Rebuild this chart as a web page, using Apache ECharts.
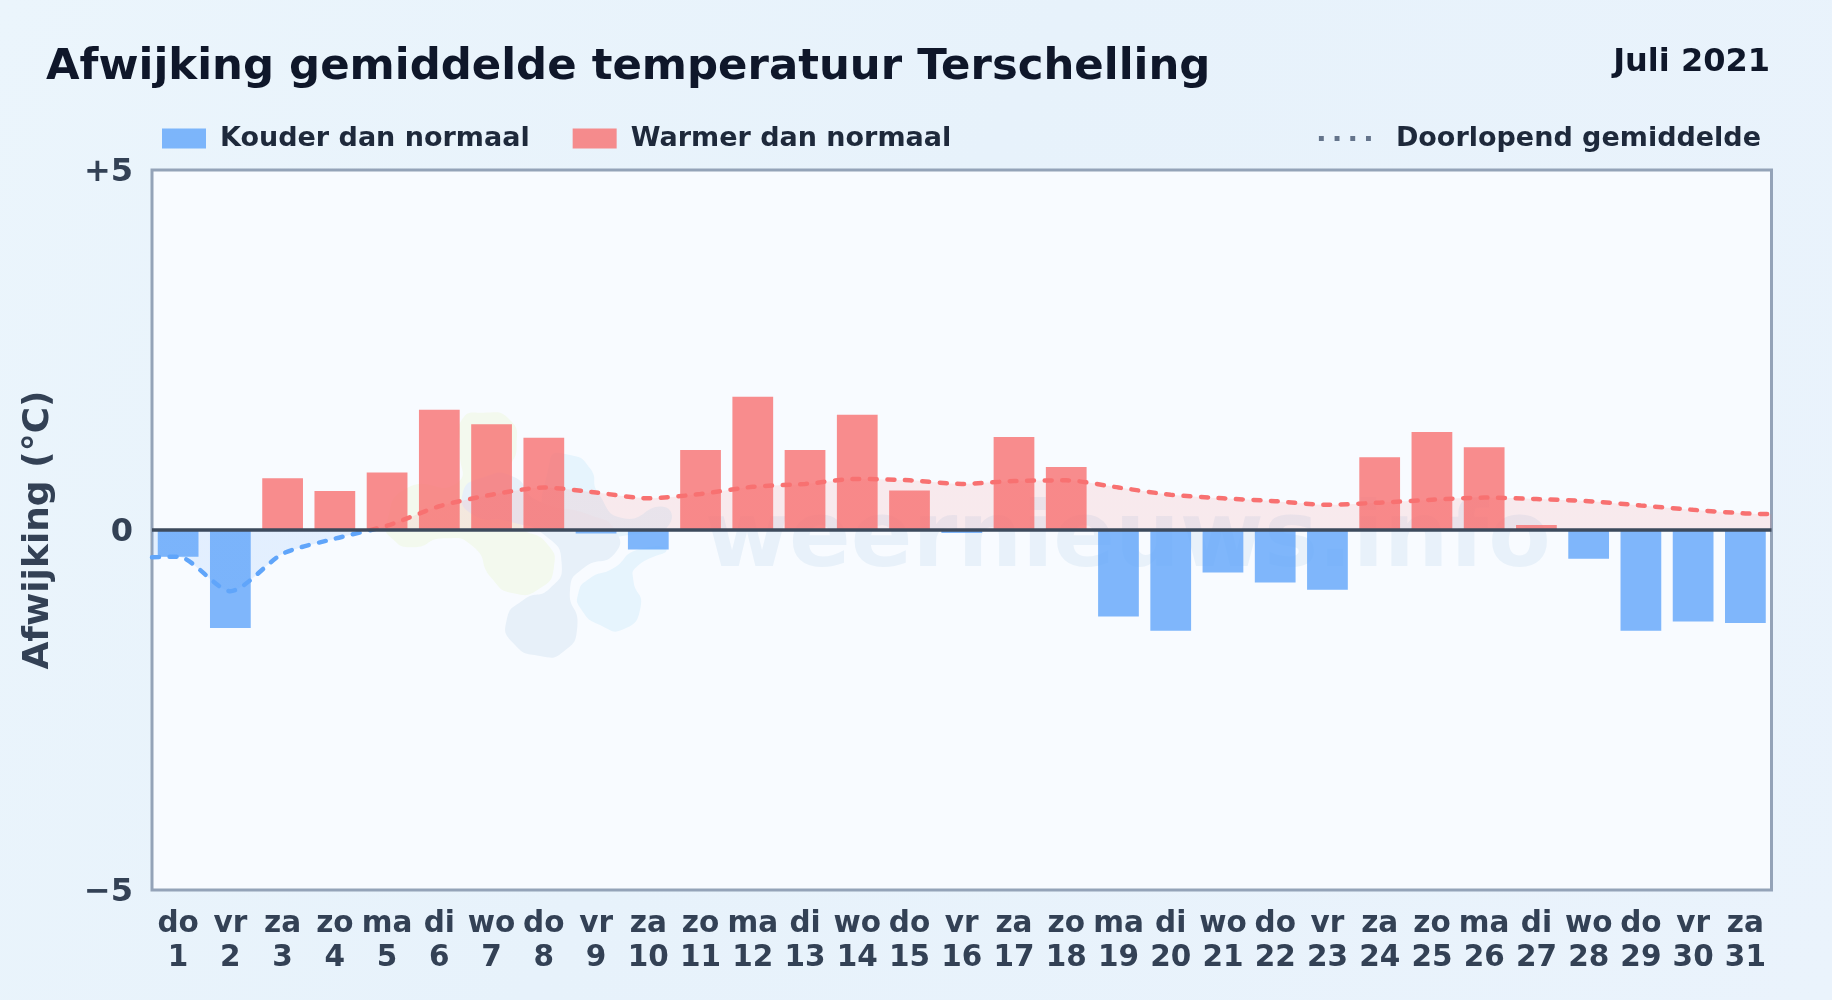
<!DOCTYPE html>
<html>
<head>
<meta charset="utf-8">
<style>html,body{margin:0;padding:0;background:#e8f3fc}#c{width:1832px;height:1000px}</style>
<script src="https://cdn.jsdelivr.net/npm/echarts@6/dist/echarts.min.js"></script>
</head>
<body>
<div id="c"></div>
<script>
const titleText = 'Afwijking gemiddelde temperatuur Terschelling';
const monthText = 'Juli 2021';
const yAxisName = 'Afwijking (°C)';
const weekdays = ['do','vr','za','zo','ma','di','wo','do','vr','za','zo','ma','di','wo','do','vr','za','zo','ma','di','wo','do','vr','za','zo','ma','di','wo','do','vr','za'];
const dayNumbers = [1,2,3,4,5,6,7,8,9,10,11,12,13,14,15,16,17,18,19,20,21,22,23,24,25,26,27,28,29,30,31];
const deviation = [-0.37,-1.36,0.72,0.54,0.80,1.67,1.47,1.28,-0.05,-0.27,1.11,1.85,1.11,1.60,0.55,-0.04,1.29,0.875,-1.20,-1.40,-0.59,-0.73,-0.83,1.01,1.36,1.15,0.07,-0.40,-1.40,-1.27,-1.29];
const runningMean = [-0.37,-0.85,-0.33,-0.12,0.06,0.33,0.49,0.59,0.52,0.44,0.50,0.60,0.64,0.71,0.69,0.64,0.68,0.69,0.59,0.49,0.44,0.40,0.35,0.38,0.42,0.45,0.43,0.40,0.34,0.28,0.23];
const meanLeftEdge = -0.38;
const meanRightEdge = 0.22;
const yTicks = {'5':'+5','0':'0','-5':'\u22125'};
const seriesCold = 'Kouder dan normaal';
const seriesWarm = 'Warmer dan normaal';
const seriesMean = 'Doorlopend gemiddelde';

const FONT = '"DejaVu Sans"';
const GRID = {left:152, right:1771.5, top:170, bottom:890};
const zeroFrac = 0.5;
const splitGrad = (above, below) => ({type:'linear', x:0, y:GRID.top, x2:0, y2:GRID.bottom, global:true,
  colorStops:[{offset:0,color:above},{offset:zeroFrac,color:above},{offset:zeroFrac,color:below},{offset:1,color:below}]});

const coldValues = deviation.map(v => v < 0 ? v : null);
const warmValues = deviation.map(v => v >= 0 ? v : null);
const meanPoints = [[dayNumbers[0]-0.5, meanLeftEdge]]
  .concat(runningMean.map((v,i)=>[dayNumbers[i], v]))
  .concat([[dayNumbers[dayNumbers.length-1]+0.5, meanRightEdge]]);

const blob = (pts, fill) => ({type:'polygon', x:370, y:390, scaleX:1/3, scaleY:1/3, z:1, silent:true,
  shape:{points:pts, smooth:0.6}, style:{fill:fill}});

const chart = echarts.init(document.getElementById('c'), null, {renderer:'canvas'});
chart.setOption({
  animation:false,
  backgroundColor:{type:'linear',x:0,y:0,x2:1,y2:1,colorStops:[{offset:0,color:'#ebf5fc'},{offset:0.45,color:'#e7f2fb'},{offset:1,color:'#eaf3fc'}]},
  textStyle:{fontFamily:FONT},
  title:[
    {text:titleText,left:41,top:41,textStyle:{fontFamily:FONT,fontWeight:'bold',fontSize:43.4,color:'#0f172a'}},
    {text:monthText,right:57,top:42,textStyle:{fontFamily:FONT,fontWeight:'bold',fontSize:32,color:'#0f172a'}}
  ],
  legend:[
    {left:157,top:120,itemWidth:44,itemHeight:20,itemGap:43,selectedMode:false,
     textStyle:{fontFamily:FONT,fontWeight:'bold',fontSize:27,color:'#1e293b',padding:[0,0,0,9]},
     data:[{name:seriesCold,icon:'rect'},{name:seriesWarm,icon:'rect'}]},
    {right:66,top:120,itemWidth:52,itemHeight:5,selectedMode:false,
     textStyle:{fontFamily:FONT,fontWeight:'bold',fontSize:27,color:'#1e293b',padding:[0,0,0,20]},
     data:[{name:seriesMean,icon:'path://M0 0h5v5H0z M16 0h5v5H16z M32 0h5v5H32z M48 0h5v5H48z',itemStyle:{color:'#64748b',opacity:1}}]}
  ],
  grid:{left:GRID.left,top:GRID.top,width:GRID.right-GRID.left,height:GRID.bottom-GRID.top,show:true,
    backgroundColor:'#f8fbff',borderColor:'#94a3b8',borderWidth:3,containLabel:false},
  xAxis:[
    {type:'category',data:weekdays.map((w,i)=>w+'\n'+dayNumbers[i]),position:'bottom',
     axisLine:{show:false,onZero:false},axisTick:{show:false},splitLine:{show:false},
     axisLabel:{interval:0,margin:17,hideOverlap:false,fontFamily:FONT,fontWeight:'bold',fontSize:29.5,color:'#334155',lineHeight:34}},
    {type:'value',show:false,min:0.5,max:31.5}
  ],
  yAxis:{type:'value',min:-5,max:5,interval:5,
    name:yAxisName,nameLocation:'middle',nameGap:95,nameRotate:90,
    nameTextStyle:{fontFamily:FONT,fontWeight:'bold',fontSize:36,color:'#334155'},
    axisLine:{show:false},axisTick:{show:false},splitLine:{show:false},
    axisLabel:{margin:19,fontFamily:FONT,fontWeight:'bold',fontSize:32,color:'#334155',
      formatter:v=>'{t|'+yTicks[String(v)]+'}',
      rich:{t:{padding:[6,0,0,0],fontFamily:FONT,fontWeight:'bold',fontSize:32,color:'#334155'}}}},
  graphic:{elements:[
    blob([[540,210],[600,195],[660,235],[685,310],[760,385],[880,350],[900,400],[830,430],[560,420]],'#e6f4fd'),
    blob([[625,610],[660,565],[730,535],[800,480],[890,480],[800,530],[790,570],[812,650],[760,718],[690,705],[635,660]],'#e6f4fd'),
    blob([[275,90],[340,68],[420,90],[440,170],[420,250],[450,400],[530,460],[552,530],[510,595],[430,610],[365,565],[310,470],[220,445],[130,472],[65,445],[50,400],[110,295],[260,280],[270,180]],'#f3f9ee'),
    blob([[278,310],[340,262],[430,260],[500,330],[660,375],[735,420],[735,490],[640,535],[600,600],[622,710],[580,785],[510,798],[430,760],[410,690],[460,630],[540,595],[575,520],[530,440],[420,395],[310,375]],'#e7f0f9'),
    {type:'text',x:705,y:588,z:1,silent:true,style:{text:'weernieuws.info',verticalAlign:'bottom',fontFamily:FONT,fontWeight:'bold',fontSize:91,fill:'#e8f1fa'}}
  ]},
  series:[
    {name:seriesCold,type:'bar',data:coldValues,stack:'d',barWidth:'78%',itemStyle:{color:'#60a5fa',opacity:0.8},z:2},
    {name:seriesWarm,type:'bar',data:warmValues,stack:'d',barWidth:'78%',itemStyle:{color:'#f87171',opacity:0.8},z:2,
     markLine:{silent:true,symbol:'none',label:{show:false},animation:false,z:6,
       lineStyle:{type:'solid',color:'#3d4a5c',width:3.5},data:[{yAxis:0}]}},
    {name:seriesMean,type:'line',xAxisIndex:1,data:meanPoints,showSymbol:false,smooth:0.25,z:5,
     lineStyle:{type:[7,10.5],cap:'round',width:4.5,color:splitGrad('#f87171','#60a5fa')},
     itemStyle:{color:'#64748b'},
     areaStyle:{origin:0,color:splitGrad('rgba(248,113,113,0.18)','rgba(96,165,250,0.2)')}}
  ]
});
</script>
</body>
</html>
